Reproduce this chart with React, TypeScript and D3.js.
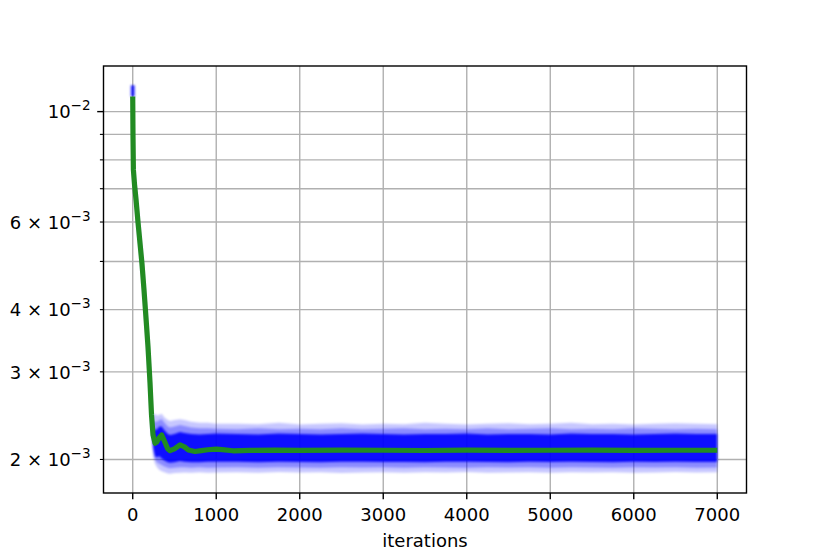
import React from "react";
import * as d3 from "d3";

// ---- data ----
const meanIter = [0, 3, 8, 22, 40, 63, 87, 111, 135, 159, 183, 207, 225, 243, 267, 290, 320, 347, 380, 420, 447, 500, 566, 620, 666, 746, 820, 900, 1000, 1100, 1200, 1400, 1700, 2000, 2500, 3000, 3500, 4000, 4500, 5000, 5500, 6000, 6500, 7000];
const meanLoss = [1.072e-2, 9.0e-3, 7.637e-3, 7.124e-3, 6.645e-3, 6.003e-3, 5.447e-3, 4.943e-3, 4.383e-3, 3.848e-3, 3.366e-3, 2.85e-3, 2.458e-3, 2.24e-3, 2.156e-3, 2.17e-3, 2.215e-3, 2.24e-3, 2.175e-3, 2.1e-3, 2.083e-3, 2.1e-3, 2.139e-3, 2.12e-3, 2.09e-3, 2.075e-3, 2.083e-3, 2.092e-3, 2.098e-3, 2.09e-3, 2.082e-3, 2.086e-3, 2.089e-3, 2.086e-3, 2.088e-3, 2.087e-3, 2.085e-3, 2.088e-3, 2.086e-3, 2.087e-3, 2.088e-3, 2.086e-3, 2.087e-3, 2.087e-3];

const bandIter = [0, 8, 22, 40, 63, 87, 111, 135, 159, 183, 207, 225, 243, 267, 290, 320, 347, 380, 420, 447, 500, 566, 620, 700, 800, 900, 1000, 1250, 1500, 1750, 2000, 2250, 2500, 2750, 3000, 3250, 3500, 3750, 4000, 4250, 4500, 4750, 5000, 5250, 5500, 5750, 6000, 6250, 6500, 6750, 7000];
// faint outer envelope of all runs
const runsMaxLoss = [1.13e-2, 8.1e-3, 7.55e-3, 7.04e-3, 6.36e-3, 5.77e-3, 5.24e-3, 4.65e-3, 4.08e-3, 3.57e-3, 3.02e-3, 2.58e-3, 2.46e-3, 2.47e-3, 2.45e-3, 2.46e-3, 2.47e-3, 2.43e-3, 2.4e-3, 2.39e-3, 2.4e-3, 2.41e-3, 2.4e-3, 2.38e-3, 2.37e-3, 2.37e-3, 2.36e-3, 2.36e-3, 2.355e-3, 2.37e-3, 2.35e-3, 2.36e-3, 2.365e-3, 2.35e-3, 2.36e-3, 2.355e-3, 2.37e-3, 2.36e-3, 2.35e-3, 2.36e-3, 2.365e-3, 2.355e-3, 2.36e-3, 2.37e-3, 2.355e-3, 2.36e-3, 2.35e-3, 2.36e-3, 2.365e-3, 2.36e-3, 2.355e-3];
const runsMinLoss = [1.0e-2, 7.18e-3, 6.7e-3, 6.25e-3, 5.64e-3, 5.12e-3, 4.65e-3, 4.12e-3, 3.62e-3, 3.16e-3, 2.68e-3, 2.25e-3, 2.03e-3, 1.96e-3, 1.93e-3, 1.905e-3, 1.895e-3, 1.885e-3, 1.875e-3, 1.873e-3, 1.878e-3, 1.88e-3, 1.882e-3, 1.88e-3, 1.885e-3, 1.88e-3, 1.883e-3, 1.885e-3, 1.88e-3, 1.887e-3, 1.882e-3, 1.885e-3, 1.878e-3, 1.884e-3, 1.886e-3, 1.88e-3, 1.885e-3, 1.882e-3, 1.887e-3, 1.88e-3, 1.884e-3, 1.885e-3, 1.88e-3, 1.886e-3, 1.882e-3, 1.885e-3, 1.88e-3, 1.884e-3, 1.887e-3, 1.882e-3, 1.885e-3];
// band where most runs overlap
const midHighLoss = [1.11e-2, 7.95e-3, 7.41e-3, 6.91e-3, 6.24e-3, 5.66e-3, 5.14e-3, 4.56e-3, 4.0e-3, 3.5e-3, 2.96e-3, 2.55e-3, 2.39e-3, 2.38e-3, 2.38e-3, 2.4e-3, 2.41e-3, 2.37e-3, 2.33e-3, 2.32e-3, 2.33e-3, 2.345e-3, 2.335e-3, 2.32e-3, 2.31e-3, 2.31e-3, 2.305e-3, 2.3e-3, 2.31e-3, 2.3e-3, 2.305e-3, 2.3e-3, 2.31e-3, 2.3e-3, 2.305e-3, 2.31e-3, 2.3e-3, 2.305e-3, 2.3e-3, 2.31e-3, 2.3e-3, 2.305e-3, 2.31e-3, 2.3e-3, 2.305e-3, 2.3e-3, 2.31e-3, 2.305e-3, 2.3e-3, 2.305e-3, 2.3e-3];
const midLowLoss = [1.02e-2, 7.33e-3, 6.84e-3, 6.38e-3, 5.76e-3, 5.23e-3, 4.75e-3, 4.21e-3, 3.69e-3, 3.23e-3, 2.74e-3, 2.33e-3, 2.08e-3, 2.0e-3, 1.975e-3, 1.96e-3, 1.95e-3, 1.935e-3, 1.925e-3, 1.92e-3, 1.925e-3, 1.93e-3, 1.93e-3, 1.925e-3, 1.93e-3, 1.925e-3, 1.928e-3, 1.93e-3, 1.925e-3, 1.93e-3, 1.928e-3, 1.925e-3, 1.93e-3, 1.927e-3, 1.93e-3, 1.925e-3, 1.93e-3, 1.928e-3, 1.925e-3, 1.93e-3, 1.927e-3, 1.93e-3, 1.925e-3, 1.93e-3, 1.928e-3, 1.925e-3, 1.93e-3, 1.927e-3, 1.93e-3, 1.925e-3, 1.928e-3];
// dense core
const coreHighLoss = [1.09e-2, 7.79e-3, 7.27e-3, 6.78e-3, 6.12e-3, 5.56e-3, 5.04e-3, 4.47e-3, 3.92e-3, 3.43e-3, 2.91e-3, 2.52e-3, 2.31e-3, 2.29e-3, 2.3e-3, 2.33e-3, 2.33e-3, 2.29e-3, 2.25e-3, 2.24e-3, 2.25e-3, 2.27e-3, 2.26e-3, 2.25e-3, 2.245e-3, 2.25e-3, 2.255e-3, 2.25e-3, 2.245e-3, 2.255e-3, 2.25e-3, 2.245e-3, 2.25e-3, 2.255e-3, 2.25e-3, 2.245e-3, 2.25e-3, 2.25e-3, 2.255e-3, 2.245e-3, 2.25e-3, 2.25e-3, 2.245e-3, 2.255e-3, 2.25e-3, 2.25e-3, 2.245e-3, 2.25e-3, 2.255e-3, 2.25e-3, 2.25e-3];
const coreLowLoss = [1.05e-2, 7.48e-3, 6.98e-3, 6.51e-3, 5.88e-3, 5.34e-3, 4.84e-3, 4.3e-3, 3.77e-3, 3.3e-3, 2.79e-3, 2.4e-3, 2.12e-3, 2.03e-3, 2.02e-3, 2.03e-3, 2.01e-3, 1.99e-3, 1.975e-3, 1.97e-3, 1.975e-3, 1.985e-3, 1.98e-3, 1.975e-3, 1.975e-3, 1.978e-3, 1.98e-3, 1.978e-3, 1.975e-3, 1.98e-3, 1.977e-3, 1.975e-3, 1.978e-3, 1.98e-3, 1.976e-3, 1.977e-3, 1.975e-3, 1.978e-3, 1.98e-3, 1.977e-3, 1.975e-3, 1.978e-3, 1.976e-3, 1.98e-3, 1.977e-3, 1.975e-3, 1.978e-3, 1.977e-3, 1.98e-3, 1.976e-3, 1.977e-3];

const xTicks = [0, 1000, 2000, 3000, 4000, 5000, 6000, 7000];
const yMajorTicks = [1e-2];
const yMinorTicks = [2e-3, 3e-3, 4e-3, 5e-3, 6e-3, 7e-3, 8e-3, 9e-3];
const yLabelValues = [1e-2, 6e-3, 4e-3, 3e-3, 2e-3];
const yLabelBases = ["10", "6 × 10", "4 × 10", "3 × 10", "2 × 10"];
const yLabelExps = ["−2", "−3", "−3", "−3", "−3"];
const xLabel = "iterations";

const W = 830, H = 554;
const L = 103.5, R = 746.5, T = 66, B = 493;

export default function App() {
  const x = d3.scaleLinear().domain([-350, 7350]).range([L, R]);
  const y = d3.scaleLog().domain([1.7126e-3, 1.235e-2]).range([B, T]);

  const band = (hi: number[], lo: number[]) =>
    d3.area<number>()
      .x((d) => x(d))
      .y0((_, i) => y(lo[i]))
      .y1((_, i) => y(hi[i]))(bandIter) || "";

  const meanPath = d3.line<number>()
    .x((_, i) => x(meanIter[i]))
    .y((d) => y(d))(meanLoss) || "";

  const font = "'DejaVu Sans', sans-serif";
  const gridColor = "#b0b0b0";

  return (
    <svg width={W} height={H} style={{ position: "absolute", left: 0, top: 0, background: "#fff" }}>
      <defs>
        <clipPath id="plot"><rect x={L} y={T} width={R - L} height={B - T} /></clipPath>
        <filter id="soft" x="-5%" y="-20%" width="110%" height="140%">
          <feGaussianBlur stdDeviation="1.2" />
        </filter>
      </defs>
      <rect x={0} y={0} width={W} height={H} fill="#fff" />
      <g stroke={gridColor} strokeWidth={1.4}>
        {xTicks.map((t) => (
          <line key={"gx" + t} x1={x(t)} x2={x(t)} y1={T} y2={B} />
        ))}
        {[...yMajorTicks, ...yMinorTicks].map((t) => (
          <line key={"gy" + t} x1={L} x2={R} y1={y(t)} y2={y(t)} />
        ))}
      </g>
      <g clipPath="url(#plot)">
        <g filter="url(#soft)">
          <path d={band(runsMaxLoss, runsMinLoss)} fill="#0000ff" fillOpacity={0.22} />
          <path d={band(midHighLoss, midLowLoss)} fill="#0000ff" fillOpacity={0.3} />
          <path d={band(coreHighLoss, coreLowLoss)} fill="#0000ff" fillOpacity={0.9} />
          <line x1={x(bandIter[0])} x2={x(bandIter[0])} y1={y(runsMaxLoss[0])} y2={y(meanLoss[0])}
            stroke="#0000ff" strokeOpacity={0.8} strokeWidth={4} />
        </g>
        <path d={meanPath} fill="none" stroke="#228b22" strokeWidth={5.2} strokeLinecap="butt" strokeLinejoin="round" />
      </g>
      <rect x={L} y={T} width={R - L} height={B - T} fill="none" stroke="#000" strokeWidth={1.4} />
      <g fontFamily={font} fontSize={18} fill="#000">
        {xTicks.map((t) => (
          <g key={"xt" + t}>
            <line x1={x(t)} x2={x(t)} y1={B} y2={B + 6.3} stroke="#000" strokeWidth={1.4} />
            <text x={x(t)} y={521} textAnchor="middle">{t}</text>
          </g>
        ))}
        <text x={(L + R) / 2} y={547} textAnchor="middle">{xLabel}</text>
        {yMajorTicks.map((t) => (
          <line key={"ymj" + t} x1={L - 6.3} x2={L} y1={y(t)} y2={y(t)} stroke="#000" strokeWidth={1.4} />
        ))}
        {yMinorTicks.map((t) => (
          <line key={"ymn" + t} x1={L - 3.6} x2={L} y1={y(t)} y2={y(t)} stroke="#000" strokeWidth={1.1} />
        ))}
        {yLabelValues.map((v, i) => (
          <text key={"yl" + v} x={90.5} y={y(v) + 6.8} textAnchor="end">
            {yLabelBases[i]}
            <tspan fontSize={13.5} dy={-8}>{yLabelExps[i]}</tspan>
          </text>
        ))}
      </g>
    </svg>
  );
}
